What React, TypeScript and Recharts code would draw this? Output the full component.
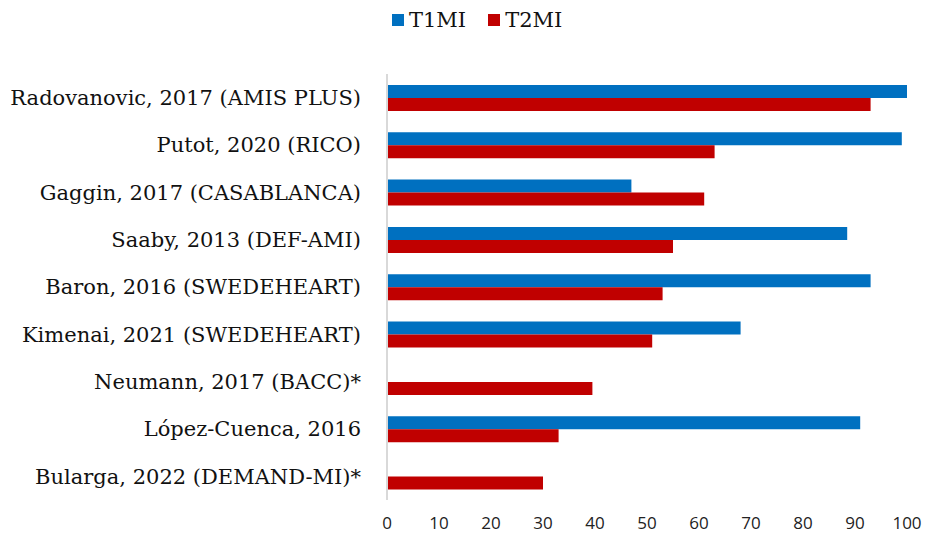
import React from "react";
import { BarChart, Bar, XAxis, YAxis, Legend } from "recharts";

const studies = [
  "Radovanovic, 2017 (AMIS PLUS)",
  "Putot, 2020 (RICO)",
  "Gaggin, 2017 (CASABLANCA)",
  "Saaby, 2013 (DEF-AMI)",
  "Baron, 2016 (SWEDEHEART)",
  "Kimenai, 2021 (SWEDEHEART)",
  "Neumann, 2017 (BACC)*",
  "López-Cuenca, 2016",
  "Bularga, 2022 (DEMAND-MI)*",
];
const t1mi = [100, 99, 47, 88.5, 93, 68, 0, 91, 0];
const t2mi = [93, 63, 61, 55, 53, 51, 39.5, 33, 30];
const xTicks = [0, 10, 20, 30, 40, 50, 60, 70, 80, 90, 100];

const BLUE = "#0070C0";
const RED = "#C00000";
const SERIF = "'DejaVu Serif', serif";

const data = studies.map((s, i) => ({ study: s, T1MI: t1mi[i], T2MI: t2mi[i] }));

function LegendBox() {
  const items = [
    { label: "T1MI", color: BLUE },
    { label: "T2MI", color: RED },
  ];
  return (
    <div style={{ height: 74, width: 925, position: "relative" }}>
      <div style={{ position: "absolute", left: 392, top: 8, display: "flex", alignItems: "center" }}>
        {items.map((it) => (
          <div key={it.label} style={{ display: "flex", alignItems: "center", marginRight: 22 }}>
            <span style={{ width: 12, height: 12, background: it.color, display: "inline-block", marginRight: 5 }} />
            <span style={{ fontFamily: SERIF, fontSize: 21, color: "#111" }}>{it.label}</span>
          </div>
        ))}
      </div>
    </div>
  );
}

export default function App() {
  return (
    <div style={{ position: "absolute", left: 0, top: 0, width: 925, height: 538, background: "#fff" }}>
      <BarChart
        width={925}
        height={538}
        data={data}
        layout="vertical"
        margin={{ top: 0, right: 18, bottom: 0, left: 0 }}
        barCategoryGap="23%"
        barGap={0}
      >
        <Legend verticalAlign="top" align="left" content={<LegendBox />} wrapperStyle={{ left: 0, top: 0 }} />
        <XAxis
          type="number"
          domain={[0, 100]}
          ticks={xTicks}
          axisLine={false}
          tickLine={false}
          tickSize={0}
          tickMargin={17}
          height={38}
          tick={{ fontFamily: "'Open Sans', sans-serif", fontSize: 17, fill: "#222" }}
        />
        <YAxis
          type="category"
          dataKey="study"
          width={387}
          axisLine={{ stroke: "#d9d9d9", strokeWidth: 2 }}
          tickLine={false}
          tickSize={0}
          tickMargin={26}
          interval={0}
          tick={{ fontFamily: SERIF, fontSize: 21, fill: "#111" }}
        />
        <Bar dataKey="T1MI" fill={BLUE} isAnimationActive={false} />
        <Bar dataKey="T2MI" fill={RED} isAnimationActive={false} />
      </BarChart>
    </div>
  );
}
